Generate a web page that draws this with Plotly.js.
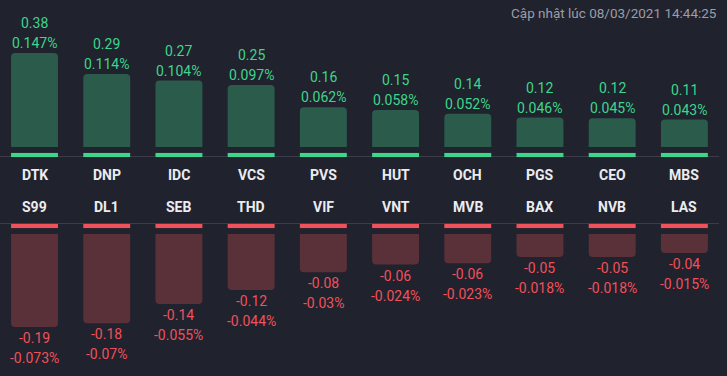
<!DOCTYPE html>
<html>
<head>
<meta charset="utf-8">
<script src="https://cdn.plot.ly/plotly-3.0.1.min.js"></script>
<style>html,body{margin:0;padding:0;background:#20222d;}#chart{width:727px;height:376px;}</style>
</head>
<body>
<div id="chart"></div>
<script>
// Data
const gainTickers = ["DTK","DNP","IDC","VCS","PVS","HUT","OCH","PGS","CEO","MBS"];
const gainPoints  = [0.38,0.29,0.27,0.25,0.16,0.15,0.14,0.12,0.12,0.11];
const gainPct     = [0.147,0.114,0.104,0.097,0.062,0.058,0.052,0.046,0.045,0.043];
const loseTickers = ["S99","DL1","SEB","THD","VIF","VNT","MVB","BAX","NVB","LAS"];
const losePoints  = [-0.19,-0.18,-0.14,-0.12,-0.08,-0.06,-0.06,-0.05,-0.05,-0.04];
const losePct     = [-0.073,-0.07,-0.055,-0.044,-0.03,-0.024,-0.023,-0.018,-0.018,-0.015];
const updatedText = "Cập nhật lúc 08/03/2021 14:44:25";

const W = 727, H = 376;
const py = p => 1 - p / H; // pixel y -> paper y
const GREEN = "#3dd68c", RED = "#f0515a";
const FONT = "Roboto, 'Noto Sans', sans-serif";

const idx = gainTickers.map((_, i) => i);

const traces = [
  { type: "bar", x: idx, y: gainPct, xaxis: "x", yaxis: "y",
    marker: { color: "#2a5b4b", cornerradius: 4 }, hoverinfo: "skip" },
  { type: "bar", x: idx, y: gainPct.map(() => 1), xaxis: "x", yaxis: "y3",
    marker: { color: GREEN }, hoverinfo: "skip" },
  { type: "bar", x: idx, y: losePct, xaxis: "x", yaxis: "y2",
    marker: { color: "#5b3139", cornerradius: 4 }, hoverinfo: "skip" },
  { type: "bar", x: idx, y: losePct.map(() => 1), xaxis: "x", yaxis: "y4",
    marker: { color: RED }, hoverinfo: "skip" }
];

const annotations = [];
gainTickers.forEach((t, i) => {
  annotations.push({ x: i, y: gainPct[i], xref: "x", yref: "y", text: String(gainPoints[i]),
    showarrow: false, yanchor: "middle", yshift: 30, font: { family: FONT, size: 14, color: GREEN } });
  annotations.push({ x: i, y: gainPct[i], xref: "x", yref: "y", text: gainPct[i] + "%",
    showarrow: false, yanchor: "middle", yshift: 10, font: { family: FONT, size: 14, color: GREEN } });
  annotations.push({ x: i, y: py(175), xref: "x", yref: "paper", text: "<b>" + t + "</b>",
    showarrow: false, yanchor: "middle", font: { family: FONT, size: 14, color: "#ececf0" } });
});
loseTickers.forEach((t, i) => {
  annotations.push({ x: i, y: losePct[i], xref: "x", yref: "y2", text: String(losePoints[i]),
    showarrow: false, yanchor: "middle", yshift: -11, font: { family: FONT, size: 14, color: RED } });
  annotations.push({ x: i, y: losePct[i], xref: "x", yref: "y2", text: losePct[i] + "%",
    showarrow: false, yanchor: "middle", yshift: -31, font: { family: FONT, size: 14, color: RED } });
  annotations.push({ x: i, y: py(207), xref: "x", yref: "paper", text: "<b>" + t + "</b>",
    showarrow: false, yanchor: "middle", font: { family: FONT, size: 14, color: "#ececf0" } });
});
annotations.push({ x: 719 / W, y: py(13), xref: "paper", yref: "paper", text: updatedText,
  showarrow: false, xanchor: "right", yanchor: "middle", font: { family: FONT, size: 13.5, color: "#9b9daa" } });

const gainMax = 0.147 * 147 / 94;
const loseMax = 0.073 * 142 / 93;

const layout = {
  width: W, height: H,
  margin: { l: 0, r: 0, t: 0, b: 0 },
  paper_bgcolor: "#20222d", plot_bgcolor: "rgba(0,0,0,0)",
  showlegend: false, bargap: 0.35,
  xaxis: { range: [-0.478, 9.59], domain: [0, 1], visible: false, fixedrange: true },
  yaxis: { domain: [py(147), 1], range: [0, gainMax], visible: false },
  yaxis2: { domain: [0, py(234)], range: [-loseMax, 0], visible: false },
  yaxis3: { domain: [py(157.3), py(152.7)], range: [0, 1], visible: false },
  yaxis4: { domain: [py(228.3), py(223.7)], range: [0, 1], visible: false },
  shapes: [
    { type: "line", xref: "paper", yref: "paper", x0: 0, x1: 719 / W, y0: py(156.5), y1: py(156.5),
      line: { color: "#3a3c49", width: 1 }, layer: "below" },
    { type: "line", xref: "paper", yref: "paper", x0: 0, x1: 719 / W, y0: py(223.5), y1: py(223.5),
      line: { color: "#3a3c49", width: 1 }, layer: "below" }
  ],
  annotations: annotations
};

Plotly.newPlot("chart", traces, layout, { displayModeBar: false, staticPlot: true });
</script>
</body>
</html>
